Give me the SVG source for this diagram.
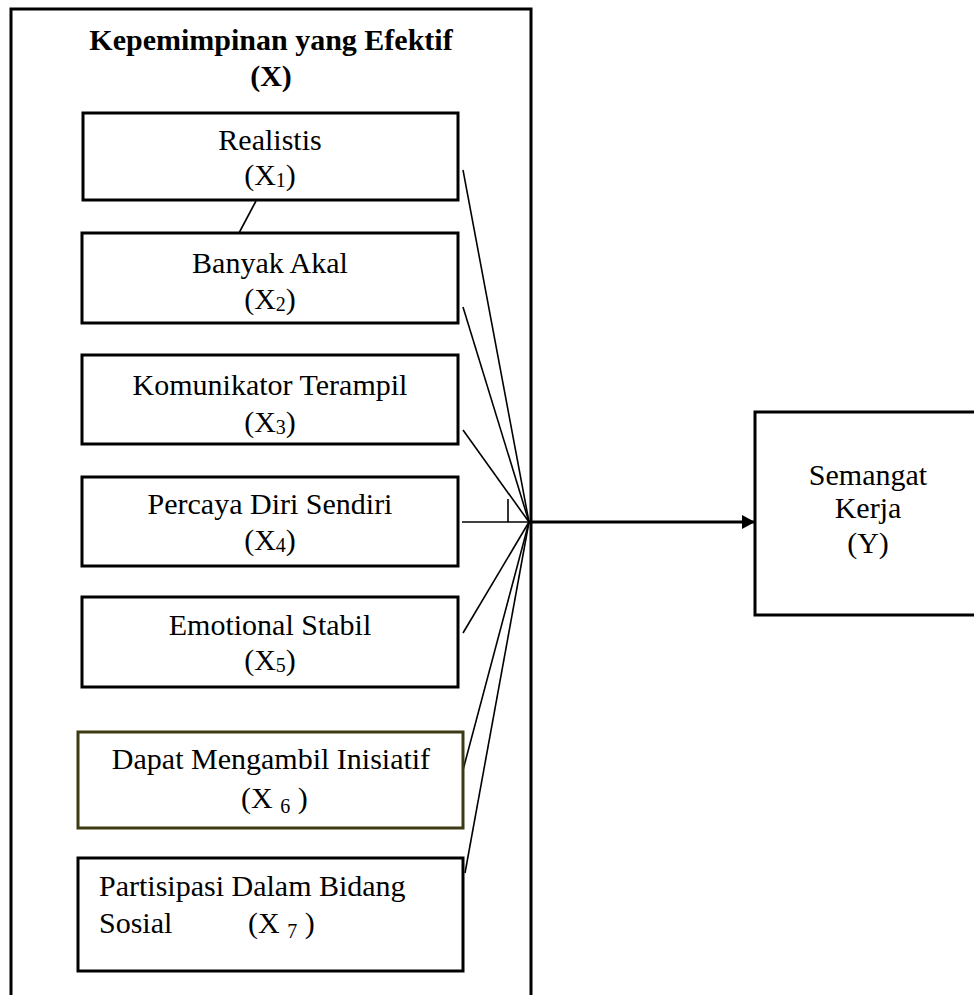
<svg xmlns="http://www.w3.org/2000/svg" width="974" height="995" viewBox="0 0 974 995">
<style>
.box{fill:#fff;stroke:#000;stroke-width:3}
.olive{fill:#fff;stroke:#3b3a12;stroke-width:3}
.t{font-family:"Liberation Serif","Times New Roman",serif;font-size:30px;fill:#000}
.c{text-anchor:middle}
.b{font-weight:bold}
.sub{font-size:20px}
.ln{stroke:#000;stroke-width:1.6;fill:none}
</style>
<defs>
<marker id="ah" markerWidth="14" markerHeight="14" refX="13" refY="7" orient="auto" markerUnits="userSpaceOnUse">
<path d="M0,0 L13,7 L0,14 Z" fill="#000"/>
</marker>
</defs>
<rect width="974" height="995" fill="#fff"/>
<g id="outer">
<path d="M11,1000 L11,9 L531,9 L531,1000" fill="none" stroke="#000" stroke-width="3"/>
<text class="t c b" x="271" y="50">Kepemimpinan yang Efektif</text>
<text class="t c b" x="271" y="86">(X)</text>
</g>
<g id="connectors">
<line class="ln" x1="256" y1="201" x2="239" y2="233"/>
<line class="ln" x1="463" y1="170" x2="529" y2="522"/>
<line class="ln" x1="463" y1="307" x2="529" y2="522"/>
<line class="ln" x1="463" y1="430" x2="529" y2="522"/>
<line class="ln" x1="462" y1="522" x2="529" y2="522"/>
<line class="ln" x1="508" y1="499" x2="508" y2="522"/>
<line class="ln" x1="463" y1="633" x2="529" y2="522"/>
<line class="ln" x1="463" y1="770" x2="529" y2="522"/>
<line class="ln" x1="465" y1="873" x2="529" y2="522"/>
<line x1="529" y1="522" x2="755" y2="522" stroke="#000" stroke-width="3" marker-end="url(#ah)"/>
</g>
<g id="x1">
<rect class="box" x="83" y="113" width="375" height="87"/>
<text class="t c" x="270" y="150">Realistis</text>
<text class="t c" x="270" y="185">(X<tspan class="sub" dy="2">1</tspan><tspan dy="-2">)</tspan></text>
</g>
<g id="x2">
<rect class="box" x="82" y="233" width="376" height="90"/>
<text class="t c" x="270" y="273">Banyak Akal</text>
<text class="t c" x="270" y="309">(X<tspan class="sub" dy="2">2</tspan><tspan dy="-2">)</tspan></text>
</g>
<g id="x3">
<rect class="box" x="82" y="355" width="376" height="89"/>
<text class="t c" x="270" y="395">Komunikator Terampil</text>
<text class="t c" x="270" y="432">(X<tspan class="sub" dy="2">3</tspan><tspan dy="-2">)</tspan></text>
</g>
<g id="x4">
<rect class="box" x="82" y="477" width="376" height="89"/>
<text class="t c" x="270" y="514">Percaya Diri Sendiri</text>
<text class="t c" x="270" y="550">(X<tspan class="sub" dy="2">4</tspan><tspan dy="-2">)</tspan></text>
</g>
<g id="x5">
<rect class="box" x="82" y="597" width="376" height="90"/>
<text class="t c" x="270" y="635">Emotional Stabil</text>
<text class="t c" x="270" y="670">(X<tspan class="sub" dy="2">5</tspan><tspan dy="-2">)</tspan></text>
</g>
<g id="x6">
<rect class="olive" x="78" y="732" width="385" height="96"/>
<text class="t c" x="271" y="769">Dapat Mengambil Inisiatif</text>
<text class="t" x="241" y="808">(X <tspan class="sub" dy="5">6</tspan><tspan dy="-5"> )</tspan></text>
</g>
<g id="x7">
<rect class="box" x="78" y="858" width="385" height="113"/>
<text class="t" x="99" y="896">Partisipasi Dalam Bidang</text>
<text class="t" x="99" y="933">Sosial</text>
<text class="t" x="248" y="933">(X <tspan class="sub" dy="5">7</tspan><tspan dy="-5"> )</tspan></text>
</g>
<g id="y">
<rect class="box" x="755" y="412" width="226" height="203"/>
<text class="t c" x="868" y="485">Semangat</text>
<text class="t c" x="868" y="518">Kerja</text>
<text class="t c" x="868" y="553">(Y)</text>
</g>
</svg>
